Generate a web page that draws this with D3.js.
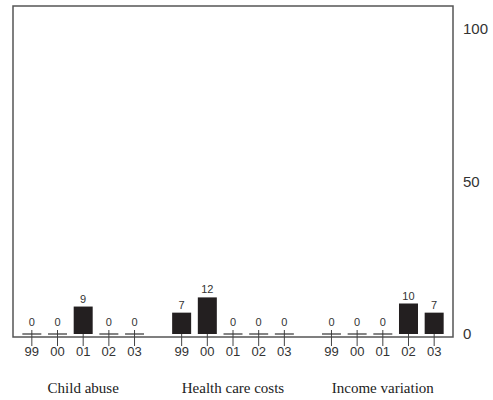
<!DOCTYPE html>
<html><head><meta charset="utf-8">
<script src="https://cdn.jsdelivr.net/npm/d3@7"></script>
<style>body{margin:0;background:#fff}</style>
</head><body>
<script>
const groups = ["Child abuse", "Health care costs", "Income variation"];
const years = ["99", "00", "01", "02", "03"];
const childAbuse = [0, 0, 9, 0, 0];
const healthCare = [7, 12, 0, 0, 0];
const incomeVar = [0, 0, 0, 10, 7];
const yTicks = [0, 50, 100];

(function () {
const series = [childAbuse, healthCare, incomeVar];
const W = 493, H = 400;
const mLeft = 13, mRight = 453, mTop = 6, frameBottom = 337;

const svg = d3.select("body").append("svg").attr("width", W).attr("height", H);

const x0 = d3.scaleBand().domain(groups).range([mLeft, mRight]).paddingInner(0.143).paddingOuter(0.04);
const x1 = d3.scaleBand().domain(years).range([0, x0.bandwidth()]).paddingInner(0.26).paddingOuter(0.13);
const y = d3.scaleLinear().domain([0, 100]).range([334, 29]);

// frame
svg.append("path")
  .attr("d", `M${mLeft},${frameBottom}V${mTop}H${mRight}V${frameBottom}H${mLeft}Z`)
  .attr("fill", "none").attr("stroke", "#555").attr("stroke-width", 1.5);

// right axis labels
const yAxis = d3.axisRight(y).tickValues(yTicks).tickSize(0).tickPadding(10);
const ga = svg.append("g").attr("transform", `translate(${mRight},0)`).call(yAxis);
ga.select(".domain").remove();
ga.selectAll("text").attr("font-family", "Liberation Sans, Arial, sans-serif").attr("font-size", 15).attr("fill", "#333");

const g = svg.append("g");
groups.forEach((grp, gi) => {
  const gx = x0(grp);
  const gg = g.append("g").attr("transform", `translate(${gx},0)`);
  const vals = series[gi];
  const rows = years.map((yr, i) => ({yr, v: vals[i]}));
  gg.selectAll(".tk").data(years).join("line")
    .attr("x1", d => x1(d) + x1.bandwidth() / 2).attr("x2", d => x1(d) + x1.bandwidth() / 2)
    .attr("y1", y(0) - 4).attr("y2", y(0) + 12)
    .attr("stroke", "#444").attr("stroke-width", 1);
  gg.selectAll(".bar").data(rows.filter(d => d.v > 0)).join("rect")
    .attr("x", d => x1(d.yr)).attr("width", x1.bandwidth())
    .attr("y", d => y(d.v)).attr("height", d => y(0) - y(d.v))
    .attr("fill", "#231f20");
  gg.selectAll(".zm").data(rows.filter(d => d.v === 0)).join("line")
    .attr("x1", d => x1(d.yr)).attr("x2", d => x1(d.yr) + x1.bandwidth())
    .attr("y1", y(0)).attr("y2", y(0))
    .attr("stroke", "#333").attr("stroke-width", 1.2);
  gg.selectAll(".vl").data(rows).join("text")
    .attr("x", d => x1(d.yr) + x1.bandwidth() / 2)
    .attr("y", d => Math.min(y(d.v), y(0) - 4) - 4)
    .attr("text-anchor", "middle")
    .attr("font-family", "Liberation Sans, Arial, sans-serif").attr("font-size", 11).attr("fill", "#333")
    .text(d => d.v);
  gg.selectAll(".yl").data(years).join("text")
    .attr("x", d => x1(d) + x1.bandwidth() / 2).attr("y", 356)
    .attr("text-anchor", "middle")
    .attr("font-family", "Liberation Sans, Arial, sans-serif").attr("font-size", 13).attr("fill", "#333")
    .text(d => d);
  gg.append("text").attr("x", x0.bandwidth() / 2).attr("y", 393)
    .attr("text-anchor", "middle")
    .attr("font-family", "Liberation Serif, Times New Roman, serif").attr("font-size", 15).attr("fill", "#222")
    .text(grp);
});
})();
</script>
</body></html>
